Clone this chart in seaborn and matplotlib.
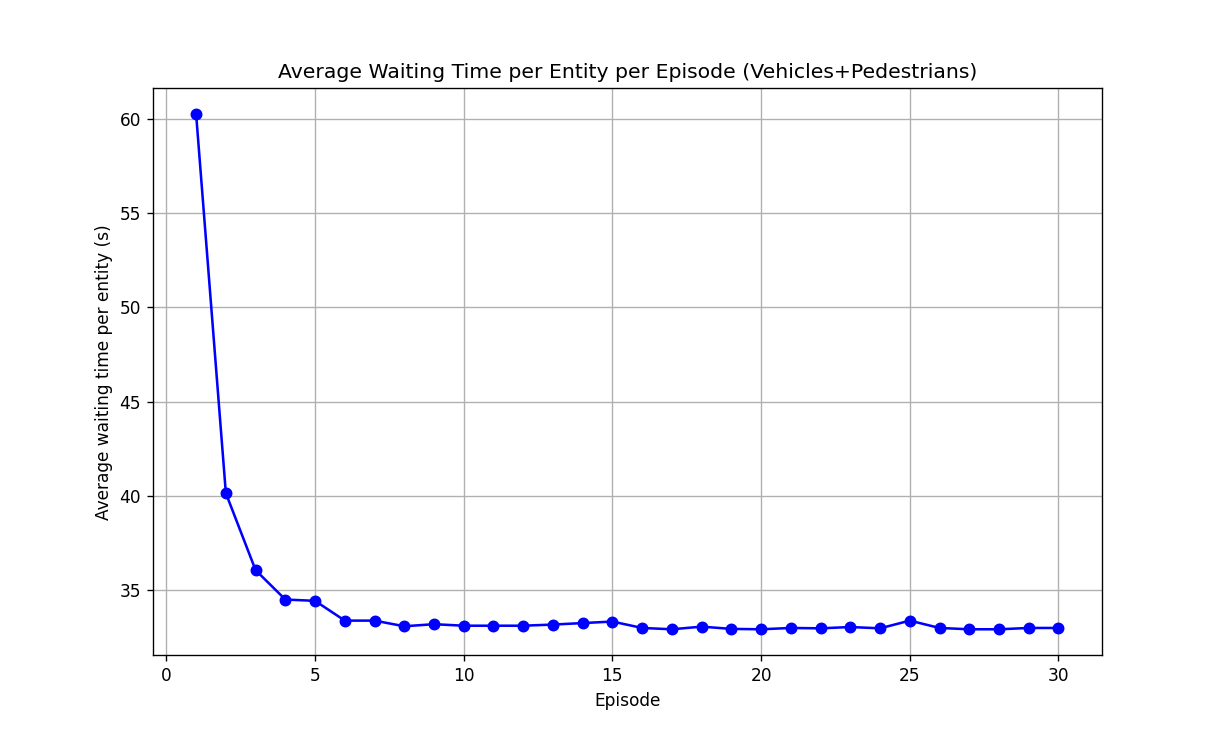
import numpy as np
import pandas as pd
import matplotlib
matplotlib.use('Agg')
import matplotlib.pyplot as plt
import seaborn as sns

# values
episodes = list(range(1, 31))
avg_wait = [60.27, 40.14, 36.05, 34.49, 34.42, 33.37, 33.37, 33.07, 33.18, 33.10,
            33.10, 33.10, 33.16, 33.24, 33.32, 32.98, 32.91, 33.05, 32.93, 32.91,
            32.98, 32.96, 33.03, 32.96, 33.37, 32.98, 32.91, 32.91, 32.98, 32.98]

df = pd.DataFrame({'episode': episodes, 'wait': avg_wait})

DPI = 122.4
fig, ax = plt.subplots(figsize=(1224 / DPI, 736 / DPI), dpi=DPI)
sns.lineplot(data=df, x='episode', y='wait', ax=ax, color='blue',
             marker='o', markersize=6, markeredgecolor='blue', markeredgewidth=1,
             linewidth=1.5)
ax.set_title('Average Waiting Time per Entity per Episode (Vehicles+Pedestrians)', fontsize=12)
ax.set_xlabel('Episode')
ax.set_ylabel('Average waiting time per entity (s)')
ax.grid(True)

plt.savefig('out.png', dpi=DPI)
plt.close()
